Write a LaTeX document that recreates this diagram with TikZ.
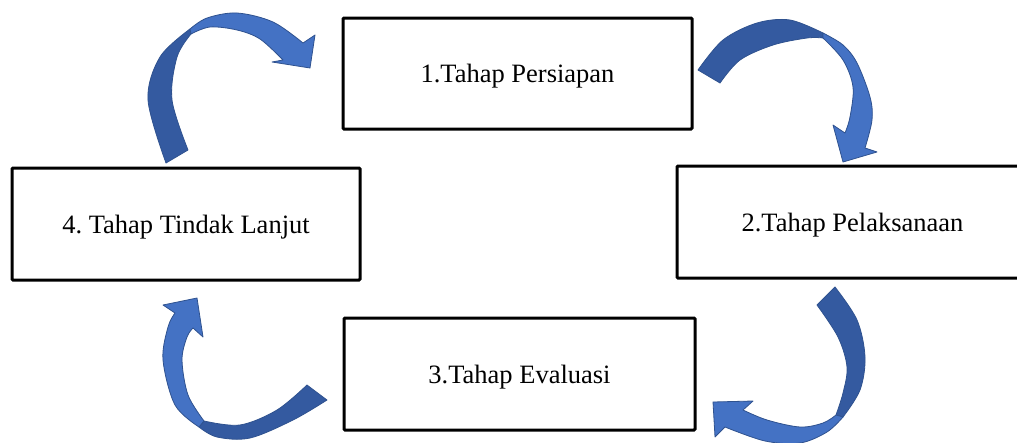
\documentclass[tikz,border=0pt]{standalone}
\usepackage{fontspec}
\setmainfont{Liberation Serif}
\definecolor{arrowlight}{RGB}{68,114,196}
\definecolor{arrowdark}{RGB}{52,90,160}
\definecolor{arrowedge}{RGB}{47,82,143}
\tikzset{
  stagebox/.style={draw=black, line width=3pt, fill=white, rounded corners=1pt,
    font=\fontsize{26.5}{30}\selectfont, inner sep=0pt, text depth=0pt},
  backface/.style={fill=arrowdark, draw=arrowedge, line width=0.8pt, line join=round},
  frontface/.style={fill=arrowlight, draw=arrowedge, line width=0.8pt, line join=round},
  edge/.style={smooth, tension=0.55},
}
\begin{document}
\begin{tikzpicture}[x=1pt, y=-1pt]
\useasboundingbox (0,0) rectangle (1017,442);

% stage boxes
\node[stagebox, minimum width=349pt, minimum height=111pt] (s1) at (517.5,73.5) {1.Tahap Persiapan};
\node[stagebox, minimum width=351pt, minimum height=112pt] (s2) at (852.5,222) {2.Tahap Pelaksanaan};
\node[stagebox, minimum width=351pt, minimum height=112pt] (s3) at (519.5,374) {3.Tahap Evaluasi};
\node[stagebox, minimum width=348pt, minimum height=112pt] (s4) at (186,224) {4.\ Tahap Tindak Lanjut};

% curved arrow: stage 4 -> stage 1 (back face up to the twist, then front face)
\filldraw[backface]
  plot[edge] coordinates {(166,163) (148,100) (160,57) (190,29)}
  -- plot[edge] coordinates {(191,34) (177,57) (172,100) (188,150)}
  -- cycle;
\filldraw[frontface]
  plot[edge] coordinates {(190,29) (207,18) (237,13) (273,22) (303,43)}
  -- (315,35) -- (310,68) -- (272,62) -- (283,60)
  -- plot[edge] coordinates {(283,60) (260,39) (237,30) (210,27) (191,34)}
  -- cycle;

% curved arrow: stage 1 -> stage 2
\filldraw[backface]
  plot[edge] coordinates {(698,70) (723,40) (757,23) (790,20) (823,33)}
  -- plot[edge] coordinates {(823,38) (807,38) (773,45) (740,60) (720,83)}
  -- cycle;
\filldraw[frontface]
  plot[edge] coordinates {(823,33) (843,45) (857,63) (870,97) (872,120) (865,148)}
  -- (877,152) -- (843,162) -- (833,125) -- (845,133)
  -- plot[edge] coordinates {(845,133) (850,117) (853,87) (843,60) (823,38)}
  -- cycle;

% curved arrow: stage 2 -> stage 3
\filldraw[backface]
  plot[edge] coordinates {(835,287) (857,320) (865,357) (860,390) (843,417)}
  -- plot[edge] coordinates {(836,415) (843,393) (847,367) (838,337) (817,305)}
  -- cycle;
\filldraw[frontface]
  plot[edge] coordinates {(843,417) (827,432) (800,443) (765,441) (725,427)}
  -- (715,437) -- (713,402) -- (753,401) -- (743,410)
  -- plot[edge] coordinates {(743,410) (767,420) (800,427) (823,423) (836,415)}
  -- cycle;

% curved arrow: stage 3 -> stage 4
\filldraw[backface]
  plot[edge] coordinates {(327,400) (293,420) (250,438) (217,437) (199,427)}
  -- plot[edge] coordinates {(204,421) (240,425) (277,410) (307,385)}
  -- cycle;
\filldraw[frontface]
  plot[edge] coordinates {(199,427) (175,405) (163,360) (168,327) (175,313)}
  -- (163,305) -- (197,298) -- (203,337) -- (193,328)
  -- plot[edge] coordinates {(193,328) (187,337) (182,360) (188,395) (204,421)}
  -- cycle;
\end{tikzpicture}
\end{document}
